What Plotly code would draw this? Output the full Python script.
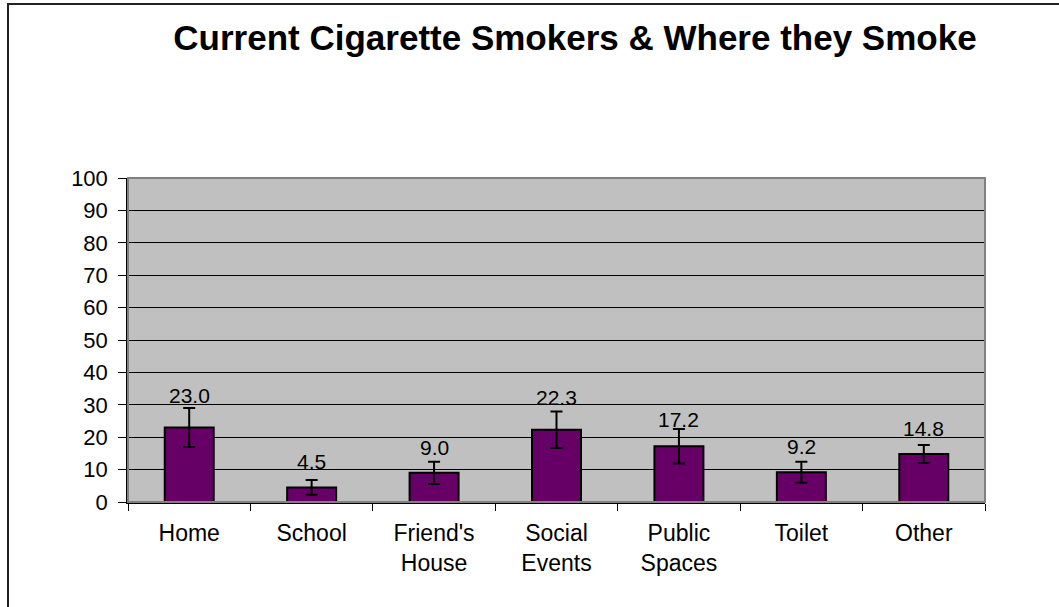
import plotly.graph_objects as go

categories = ["Home", "School", "Friend's<br>House", "Social<br>Events", "Public<br>Spaces", "Toilet", "Other"]
values = [23.0, 4.5, 9.0, 22.3, 17.2, 9.2, 14.8]
errors = [6.0, 2.3, 3.45, 5.6, 5.3, 3.25, 2.8]
value_labels = ["23.0", "4.5", "9.0", "22.3", "17.2", "9.2", "14.8"]
y_ticks = [0, 10, 20, 30, 40, 50, 60, 70, 80, 90, 100]

# extra pixel lift of some value labels (style, not data)
label_lift = [6, 0, 0, 7, 1, 0, 0]

W, H = 1059, 607
L, R, T, B = 128, 985, 178, 502

fig = go.Figure()
fig.add_trace(go.Bar(
    x=categories, y=values,
    marker=dict(color="#660066", line=dict(color="black", width=2)),
    error_y=dict(type="data", array=errors, visible=True, color="black", thickness=2, width=6),
    width=0.4,
))

for c, v, t, lift in zip(categories, values, value_labels, label_lift):
    fig.add_annotation(x=c, y=v, text=t, showarrow=False, yanchor="bottom",
                       yshift=12 + lift, font=dict(family="Liberation Sans, Arial", size=21, color="black"))

pw = R - L
ph = B - T
# grey plot-area border (top/right)
fig.add_shape(type="rect", xref="paper", yref="paper", x0=0, x1=1, y0=0, y1=1,
              line=dict(color="#808080", width=2), layer="above")
# outer chart border
fig.add_shape(type="rect", xref="paper", yref="paper",
              x0=(8 - L) / pw, x1=(W + 40 - L) / pw,
              y0=(B - (H + 40)) / ph, y1=(B - 4) / ph,
              line=dict(color="#222222", width=2), layer="above")

fig.update_layout(
    width=W, height=H,
    margin=dict(l=L, r=W - R, t=T, b=H - B, pad=0),
    paper_bgcolor="white", plot_bgcolor="#c0c0c0",
    showlegend=False,
    font=dict(family="Liberation Sans, Arial", color="black"),
    title=dict(text="<b>Current Cigarette Smokers & Where they Smoke</b>",
               x=575 / W, xanchor="center", y=1 - 38 / H, yanchor="middle",
               font=dict(size=35, color="black", family="Liberation Sans, Arial")),
    bargap=0.6,
)
fig.update_xaxes(showline=True, linecolor="black", linewidth=1.5, ticks="outside",
                 tickson="boundaries", ticklen=7, tickcolor="black", tickwidth=1,
                 tickfont=dict(size=23, color="black"), showgrid=False,
                 ticklabelstandoff=10)
fig.update_yaxes(range=[0, 100], tickvals=y_ticks, showline=True, linecolor="black", linewidth=1.5,
                 ticks="outside", ticklen=8, tickcolor="black", tickwidth=1,
                 showgrid=True, gridcolor="black", gridwidth=1, zeroline=False,
                 tickfont=dict(size=22, color="black"), ticklabelstandoff=6)

fig.write_html("out.html", config={"displayModeBar": False},
               post_script="document.body.style.margin='0';")
